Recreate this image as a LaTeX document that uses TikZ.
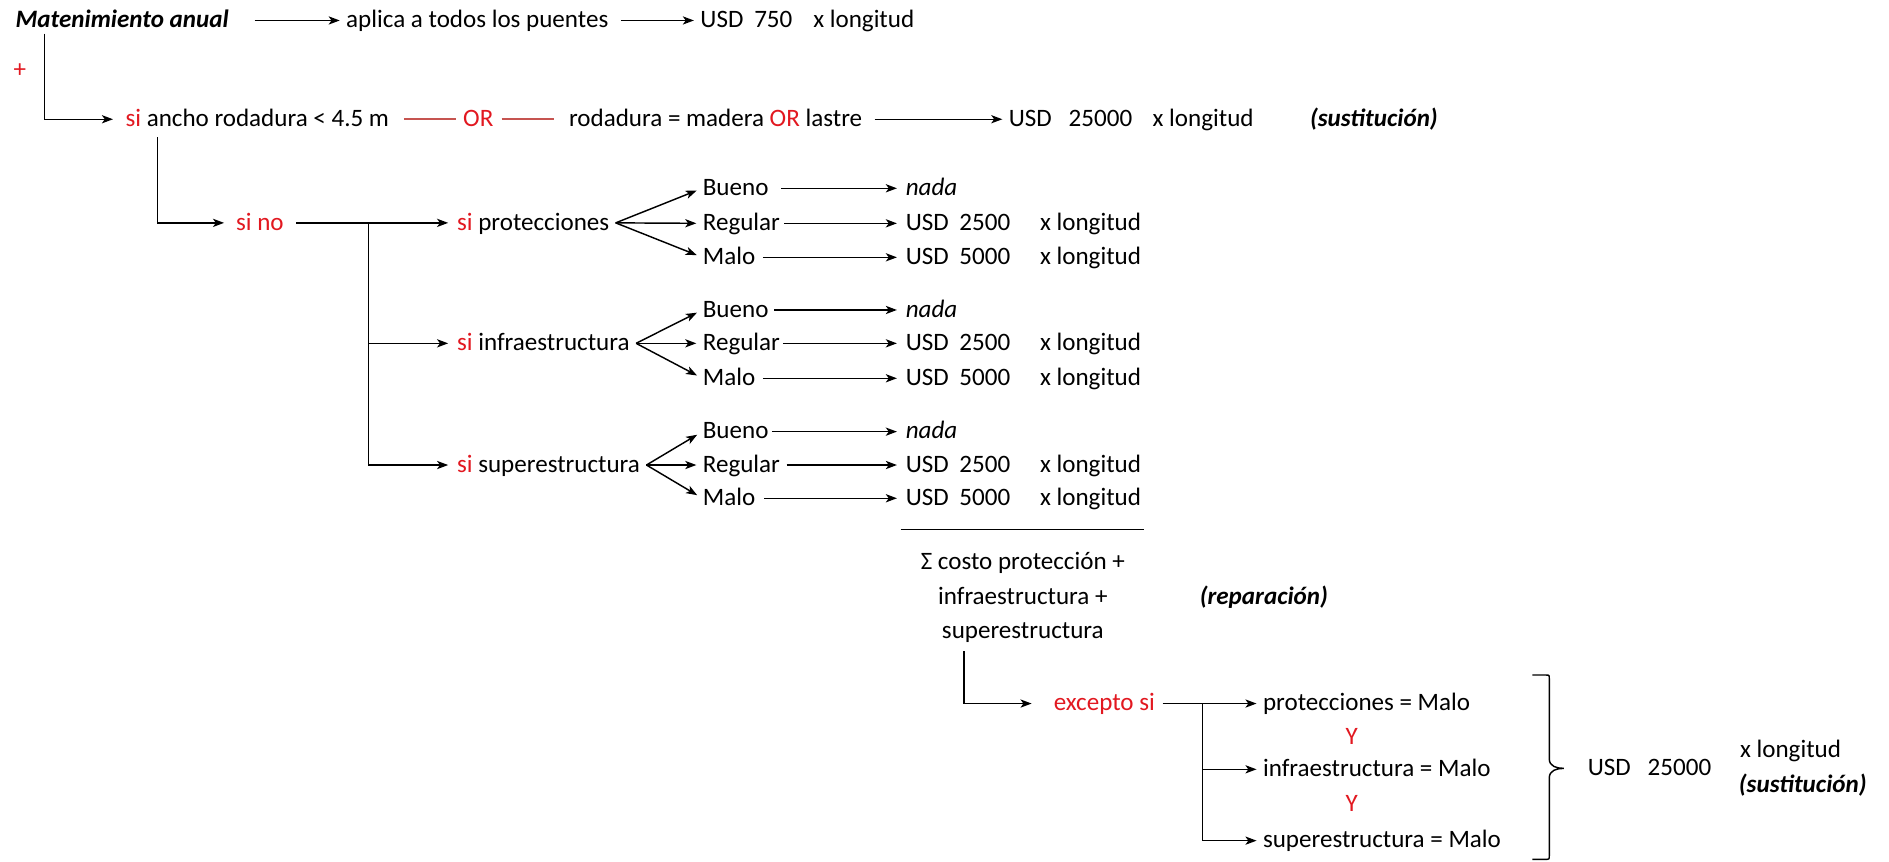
\documentclass[tikz,border=0pt]{standalone}
\usepackage{fontspec}
\setmainfont{Carlito}
\usetikzlibrary{arrows.meta,positioning}
\definecolor{sired}{RGB}{226,24,32}
\definecolor{orred}{RGB}{198,84,80}

\begin{document}
\begin{tikzpicture}[
x=0.5pt, y=-0.5pt,
font=\fontsize{10.4}{12.5}\selectfont,
txt/.style={anchor=west, inner sep=0pt, text height=7.8pt, text depth=1.8pt},
boldit/.style={txt, font=\fontsize{10.4}{12.5}\selectfont\bfseries\itshape},
redtxt/.style={txt, text=sired},
arrow/.style={-{Stealth[length=4.6pt,width=3.4pt,inset=1.2pt]}, line width=0.6pt, shorten <=2pt, shorten >=2.5pt},
row/.style={arrow, shorten >=3.5pt},
rule/.style={line width=0.6pt},
orline/.style={line width=0.7pt, draw=orred}
]
\path[fill=white] (0,0) rectangle (1568,715);

\node[boldit] (mat) at (12.5,17) {Matenimiento anual};
\node[txt] (apl) at (287,17) {aplica a todos los puentes};
\node[txt] (c750) at (581,17) {USD\hspace{4.5pt}750\hspace{8.7pt}x longitud};
\node[redtxt] (plus) at (11,58) {+};

\node[txt] (ancho) at (103.8,99) {\textcolor{sired}{si} ancho rodadura < 4.5 m};
\node[redtxt, anchor=center] (or) at (397,99) {OR};
\node[txt] (rod) at (472,99) {rodadura = madera \textcolor{sired}{OR} lastre};
\node[txt] (c25) at (837,99) {USD\hspace{7pt}25000\hspace{8.5pt}x longitud};
\node[boldit] (sus1) at (1087,99) {(sustitución)};

\draw[arrow, shorten <=10.5pt] (mat) -- (apl);
\draw[arrow, shorten <=5pt] (apl) -- (c750);
\draw[arrow, shorten <=0.5pt, shorten >=5pt] ([xshift=12.2pt]mat.south west) |- (ancho);
\draw[orline, shorten <=6pt, shorten >=2.8pt] (ancho) -- (or);
\draw[orline, shorten <=3.2pt, shorten >=6pt] (or) -- (rod);
\draw[arrow, shorten <=5pt] (rod) -- (c25);

\node[redtxt] (sino) at (195.6,185) {si no};
\node[txt] (prot) at (379,185) {\textcolor{sired}{si} protecciones};
\node[txt] (infra) at (379,285) {\textcolor{sired}{si} infraestructura};
\node[txt] (super) at (379,386) {\textcolor{sired}{si} superestructura};
\coordinate (sp1) at ([xshift=35pt]sino.east);

\draw[arrow, shorten <=2.5pt, shorten >=4.8pt] ([xshift=13.4pt]ancho.south west) |- (sino);
\draw[arrow, shorten <=5pt, shorten >=3.5pt] (sino) -- (prot);
\draw[arrow, shorten <=0pt, shorten >=3.5pt] (sp1) |- (infra);
\draw[arrow, shorten <=0pt, shorten >=3.5pt] (sp1) |- (super);

\node[txt] (bue1) at (583,156.3) {Bueno};
\node[txt] (reg1) at (583,185.4) {Regular};
\node[txt] (mal1) at (583,213.6) {Malo};
\node[txt] (nad1) at (751.5,156.3) {\textit{nada}};
\node[txt] (usr1) at (751.5,185.4) {USD\hspace{4.4pt}2500\hspace{12.4pt}x longitud};
\node[txt] (usm1) at (751.5,213.6) {USD\hspace{4.4pt}5000\hspace{12.4pt}x longitud};

\node[txt] (bue2) at (583,257.3) {Bueno};
\node[txt] (reg2) at (583,285) {Regular};
\node[txt] (mal2) at (583,314) {Malo};
\node[txt] (nad2) at (751.5,257.3) {\textit{nada}};
\node[txt] (usr2) at (751.5,285) {USD\hspace{4.4pt}2500\hspace{12.4pt}x longitud};
\node[txt] (usm2) at (751.5,314) {USD\hspace{4.4pt}5000\hspace{12.4pt}x longitud};

\node[txt] (bue3) at (583,358.3) {Bueno};
\node[txt] (reg3) at (583,386) {Regular};
\node[txt] (mal3) at (583,413.6) {Malo};
\node[txt] (nad3) at (751.5,358.3) {\textit{nada}};
\node[txt] (usr3) at (751.5,386) {USD\hspace{4.4pt}2500\hspace{12.4pt}x longitud};
\node[txt] (usm3) at (751.5,413.6) {USD\hspace{4.4pt}5000\hspace{12.4pt}x longitud};

\draw[arrow, shorten <=0pt] ([xshift=2.5pt]prot.east) -- (bue1.west);
\draw[arrow, shorten <=0pt] ([xshift=2.5pt]prot.east) -- (reg1.west);
\draw[arrow, shorten <=0pt] ([xshift=2.5pt]prot.east) -- (mal1.west);
\draw[arrow, shorten <=0pt] ([xshift=2.5pt]infra.east) -- (bue2.west);
\draw[arrow, shorten <=0pt] ([xshift=2.5pt]infra.east) -- (reg2.west);
\draw[arrow, shorten <=0pt] ([xshift=2.5pt]infra.east) -- (mal2.west);
\draw[arrow, shorten <=0pt] ([xshift=2.5pt]super.east) -- (bue3.west);
\draw[arrow, shorten <=0pt] ([xshift=2.5pt]super.east) -- (reg3.west);
\draw[arrow, shorten <=0pt] ([xshift=2.5pt]super.east) -- (mal3.west);

\draw[row, shorten <=5pt] (bue1) -- (nad1);
\draw[row, shorten <=1.5pt] (reg1) -- (usr1);
\draw[row, shorten <=3pt] (mal1) -- (usm1);
\draw[row, shorten <=2.2pt] (bue2) -- (nad2);
\draw[row, shorten <=1pt] (reg2) -- (usr2);
\draw[row, shorten <=3pt] (mal2) -- (usm2);
\draw[row, shorten <=1.2pt] (bue3) -- (nad3);
\draw[row, shorten <=2.6pt] (reg3) -- (usr3);
\draw[row, shorten <=3.5pt] (mal3) -- (usm3);

\draw[rule] ([xshift=-2pt,yshift=-8pt]usm3.south west) -- ([xshift=1pt,yshift=-8pt]usm3.south east);
\node[align=center, inner sep=0pt, font=\fontsize{10.4}{14.2}\selectfont] (sum) at (849,496) {Σ costo protección +\\infraestructura +\\superestructura};
\node[boldit] (rep) at (995.5,496) {(reparación)};

\node[redtxt] (exc) at (874.3,584) {excepto si};
\node[txt] (pm) at (1048,584) {protecciones = Malo};
\node[txt] (im) at (1048,638.6) {infraestructura = Malo};
\node[txt] (sm) at (1048,697.8) {superestructura = Malo};
\node[redtxt, anchor=center] (y1) at (1122,612) {Y};
\node[redtxt, anchor=center] (y2) at (1122,668) {Y};
\coordinate (sp2) at ([xshift=19.5pt]exc.east);

\draw[arrow, shorten <=3.5pt, shorten >=9pt] ([xshift=-24.5pt]sum.south) |- (exc);
\draw[arrow, shorten <=3pt] (exc) -- (pm);
\draw[arrow, shorten <=0pt] (sp2) |- (im);
\draw[arrow, shorten <=0pt] (sp2) |- (sm);

\draw[rule] (1272,560.3) -- (1283,560.3) .. controls (1286,560.3) .. (1286,563.5) -- (1286,630) .. controls (1286,636) and (1292,637.8) .. (1298,637.8) .. controls (1292,637.8) and (1286,639.6) .. (1286,645.6) -- (1286,710) .. controls (1286,713.3) .. (1283,713.3) -- (1272,713.3);

\node[txt] (usb) at (1317.6,638) {USD\hspace{7pt}25000};
\node[txt] (xlb) at (1444,623) {x longitud};
\node[boldit] (sus2) at (1443,652) {(sustitución)};
\end{tikzpicture}
\end{document}
